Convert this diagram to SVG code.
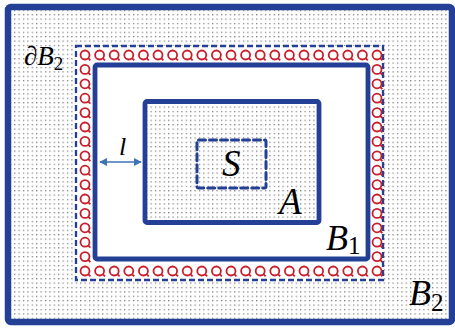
<svg xmlns="http://www.w3.org/2000/svg" xmlns:xlink="http://www.w3.org/1999/xlink" width="455" height="329" viewBox="0 0 455 329">
<style>
.bl{fill:none;stroke:#233f96;stroke-linejoin:round}
.dash{fill:none;stroke:#233f96;stroke-width:2.3;stroke-dasharray:6 3}
.lbl{font-family:"Liberation Serif","Times New Roman",serif;font-style:italic;fill:#000}
.loop circle,.loop path{fill:none;stroke:#c81e2b;stroke-width:1.8}
</style>
<defs>
<pattern id="dots" width="4.4" height="4.4" patternUnits="userSpaceOnUse">
<rect x="1" y="1" width="1.1" height="1.1" fill="#555"/>
</pattern>
<g id="lp" class="loop"><circle r="4.5"/><path d="M3.2,3.2 L5.4,5.4"/></g>
<marker id="ah" viewBox="0 0 10 10" refX="9" refY="5" markerWidth="5" markerHeight="5" orient="auto-start-reverse" markerUnits="strokeWidth">
<path d="M0,0 L10,5 L0,10 z" fill="#3f73b8"/>
</marker>
</defs>
<rect width="455" height="329" fill="#fff"/>
<g id="B2">
<rect x="8" y="7" width="444" height="315" fill="url(#dots)"/>
<rect x="76" y="46" width="307" height="234" fill="#fff"/>
<rect x="8" y="7" width="444" height="315" rx="3" class="bl" stroke-width="6.5"/>
<text class="lbl" x="409" y="305" font-size="36">B<tspan font-size="25" dy="6" font-style="normal">2</tspan></text>
</g>
<g id="dB2">
<rect x="76" y="46" width="307" height="234" class="dash"/>
<text class="lbl" x="24" y="65" font-size="27">∂B<tspan font-size="19" dy="5" font-style="normal">2</tspan></text>
</g>
<g id="loops">
<use xlink:href="#lp" x="85" y="55"/><use xlink:href="#lp" x="99.6" y="55"/><use xlink:href="#lp" x="114.2" y="55"/><use xlink:href="#lp" x="128.8" y="55"/><use xlink:href="#lp" x="143.4" y="55"/><use xlink:href="#lp" x="158" y="55"/><use xlink:href="#lp" x="172.6" y="55"/><use xlink:href="#lp" x="187.2" y="55"/><use xlink:href="#lp" x="201.8" y="55"/><use xlink:href="#lp" x="216.4" y="55"/><use xlink:href="#lp" x="231" y="55"/><use xlink:href="#lp" x="245.6" y="55"/><use xlink:href="#lp" x="260.2" y="55"/><use xlink:href="#lp" x="274.8" y="55"/><use xlink:href="#lp" x="289.4" y="55"/><use xlink:href="#lp" x="304" y="55"/><use xlink:href="#lp" x="318.6" y="55"/><use xlink:href="#lp" x="333.2" y="55"/><use xlink:href="#lp" x="347.8" y="55"/><use xlink:href="#lp" x="362.4" y="55"/><use xlink:href="#lp" x="377" y="55"/>
<use xlink:href="#lp" x="85" y="271"/><use xlink:href="#lp" x="99.6" y="271"/><use xlink:href="#lp" x="114.2" y="271"/><use xlink:href="#lp" x="128.8" y="271"/><use xlink:href="#lp" x="143.4" y="271"/><use xlink:href="#lp" x="158" y="271"/><use xlink:href="#lp" x="172.6" y="271"/><use xlink:href="#lp" x="187.2" y="271"/><use xlink:href="#lp" x="201.8" y="271"/><use xlink:href="#lp" x="216.4" y="271"/><use xlink:href="#lp" x="231" y="271"/><use xlink:href="#lp" x="245.6" y="271"/><use xlink:href="#lp" x="260.2" y="271"/><use xlink:href="#lp" x="274.8" y="271"/><use xlink:href="#lp" x="289.4" y="271"/><use xlink:href="#lp" x="304" y="271"/><use xlink:href="#lp" x="318.6" y="271"/><use xlink:href="#lp" x="333.2" y="271"/><use xlink:href="#lp" x="347.8" y="271"/><use xlink:href="#lp" x="362.4" y="271"/><use xlink:href="#lp" x="377" y="271"/>
<use xlink:href="#lp" x="85" y="69.4"/><use xlink:href="#lp" x="85" y="83.8"/><use xlink:href="#lp" x="85" y="98.2"/><use xlink:href="#lp" x="85" y="112.6"/><use xlink:href="#lp" x="85" y="127"/><use xlink:href="#lp" x="85" y="141.4"/><use xlink:href="#lp" x="85" y="155.8"/><use xlink:href="#lp" x="85" y="170.2"/><use xlink:href="#lp" x="85" y="184.6"/><use xlink:href="#lp" x="85" y="199"/><use xlink:href="#lp" x="85" y="213.4"/><use xlink:href="#lp" x="85" y="227.8"/><use xlink:href="#lp" x="85" y="242.2"/><use xlink:href="#lp" x="85" y="256.6"/>
<use xlink:href="#lp" x="377" y="69.4"/><use xlink:href="#lp" x="377" y="83.8"/><use xlink:href="#lp" x="377" y="98.2"/><use xlink:href="#lp" x="377" y="112.6"/><use xlink:href="#lp" x="377" y="127"/><use xlink:href="#lp" x="377" y="141.4"/><use xlink:href="#lp" x="377" y="155.8"/><use xlink:href="#lp" x="377" y="170.2"/><use xlink:href="#lp" x="377" y="184.6"/><use xlink:href="#lp" x="377" y="199"/><use xlink:href="#lp" x="377" y="213.4"/><use xlink:href="#lp" x="377" y="227.8"/><use xlink:href="#lp" x="377" y="242.2"/><use xlink:href="#lp" x="377" y="256.6"/>
</g>
<g id="B1">
<rect x="95" y="65" width="273" height="194" rx="2" class="bl" stroke-width="4.8"/>
<text class="lbl" x="326" y="250" font-size="36">B<tspan font-size="25" dy="4" font-style="normal">1</tspan></text>
</g>
<g id="A">
<rect x="145" y="101.5" width="174" height="121" fill="url(#dots)"/>
<rect x="145" y="101.5" width="174" height="121" rx="2" class="bl" stroke-width="4.8"/>
<text class="lbl" x="279" y="214" font-size="37">A</text>
</g>
<g id="S">
<rect x="197" y="140" width="69" height="48" rx="1.5" fill="none" stroke="#233f96" stroke-width="3" stroke-dasharray="7 4" stroke-linecap="round"/>
<text class="lbl" x="222" y="176" font-size="37">S</text>
</g>
<g id="connectors">
<line x1="100" y1="162" x2="141" y2="162" stroke="#3f73b8" stroke-width="1.6" marker-start="url(#ah)" marker-end="url(#ah)"/>
<text class="lbl" x="119" y="155" font-size="26">l</text>
</g>
</svg>
